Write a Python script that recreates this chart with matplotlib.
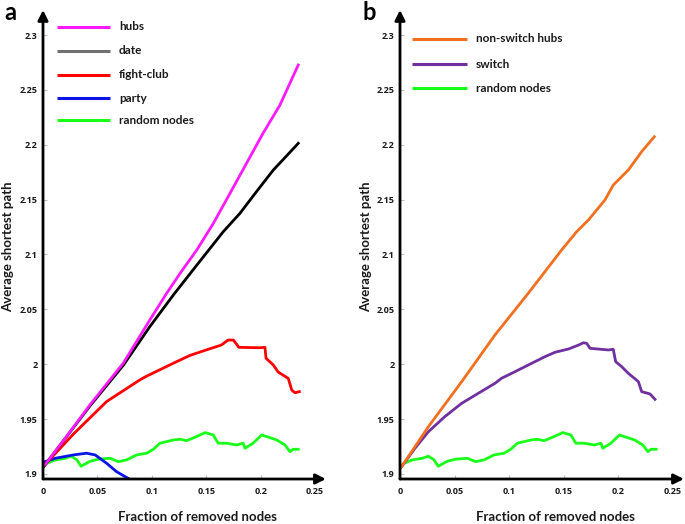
import matplotlib
matplotlib.use("Agg")
import matplotlib.pyplot as plt
from matplotlib.ticker import FuncFormatter

plt.rcParams['font.family'] = ['Lato', 'DejaVu Sans']

# ---------------- data (panel a) ----------------
hubs_x = [0, 0.003, 0.02, 0.0432, 0.0738, 0.098, 0.1137, 0.1275, 0.1413, 0.1566, 0.1719, 0.187, 0.2022, 0.2178, 0.2346]
hubs_y = [1.907, 1.9098, 1.932, 1.963, 2.001, 2.040, 2.0647, 2.085, 2.104, 2.1284, 2.1558, 2.183, 2.2104, 2.2362, 2.2727]

date_x = [0, 0.003, 0.0432, 0.0738, 0.098, 0.1205, 0.1443, 0.1657, 0.181, 0.196, 0.2117, 0.224, 0.2346]
date_y = [1.906, 1.9098, 1.962, 1.999, 2.034, 2.064, 2.094, 2.1208, 2.1375, 2.157, 2.177, 2.190, 2.2013]

fight_x = [0, 0.003, 0.028, 0.0585, 0.089, 0.095, 0.12, 0.135, 0.150, 0.164, 0.170, 0.175, 0.180,
           0.199, 0.204, 0.205, 0.2117, 0.216, 0.2255, 0.2286, 0.2316, 0.2356]
fight_y = [1.906, 1.9098, 1.9364, 1.966, 1.9857, 1.989, 2.001, 2.008, 2.013, 2.0175, 2.022, 2.022, 2.0154,
           2.015, 2.0154, 2.0054, 1.9993, 1.993, 1.987, 1.9765, 1.974, 1.975]

party_x = [0, 0.0018, 0.0113, 0.0278, 0.040, 0.048, 0.0585, 0.0677, 0.080]
party_y = [1.907, 1.9112, 1.9143, 1.9173, 1.9189, 1.9173, 1.9097, 1.902, 1.895]

random_x = [0, 0.0037, 0.0113, 0.0205, 0.0259, 0.031, 0.035, 0.0432, 0.0508, 0.0616, 0.0692, 0.0769,
            0.086, 0.0953, 0.1014, 0.1075, 0.120, 0.126, 0.132, 0.141, 0.149, 0.1565, 0.161, 0.1688,
            0.178, 0.184, 0.1857, 0.193, 0.201, 0.2056, 0.2148, 0.2224, 0.227, 0.230, 0.2346]
random_y = [1.9067, 1.9097, 1.9128, 1.9143, 1.9162, 1.9130, 1.9070, 1.9115, 1.9134, 1.9143, 1.9112, 1.9128,
            1.9173, 1.9189, 1.9225, 1.928, 1.931, 1.9316, 1.9303, 1.934, 1.9377, 1.9355, 1.928, 1.928,
            1.9264, 1.928, 1.9234, 1.928, 1.9355, 1.934, 1.931, 1.9264, 1.9203, 1.9225, 1.9225]

# ---------------- data (panel b) ----------------
nonswitch_x = [0, 0.0015, 0.026, 0.0565, 0.087, 0.1175, 0.148, 0.1618, 0.1725, 0.1877, 0.1953, 0.2091, 0.2213, 0.2329]
nonswitch_y = [1.905, 1.9067, 1.9431, 1.9841, 2.0267, 2.0647, 2.1041, 2.1208, 2.1314, 2.1497, 2.1633, 2.177, 2.1937, 2.2073]

switch_x = [0, 0.0015, 0.0137, 0.026, 0.041, 0.0565, 0.0717, 0.087, 0.093, 0.1023, 0.1175, 0.1328, 0.142,
            0.1544, 0.1636, 0.168, 0.171, 0.174, 0.1908, 0.1953, 0.1975, 0.203, 0.2091, 0.2183, 0.2213, 0.229, 0.2335]
switch_y = [1.905, 1.9067, 1.9234, 1.9385, 1.9522, 1.9644, 1.9735, 1.9826, 1.9872, 1.9917, 1.9993, 2.0069, 2.0109,
            2.0139, 2.0175, 2.0196, 2.019, 2.0145, 2.013, 2.0136, 2.0023, 1.9978, 1.9917, 1.9841, 1.975, 1.9729, 1.968]

x_ticks = [0, 0.05, 0.1, 0.15, 0.2, 0.25]
y_ticks = [1.9, 1.95, 2.0, 2.05, 2.1, 2.15, 2.2, 2.25, 2.3]

C_MAG = '#ff1aff'
C_BLACK = '#000000'
C_GRAY = '#707070'
C_RED = '#ff0000'
C_BLUE = '#0a14e6'
C_GREEN = '#1aff1a'
C_ORANGE = '#f07020'
C_PURPLE = '#7030a0'

series_a = [
    (hubs_x, hubs_y, C_MAG, 'hubs', C_MAG),
    (date_x, date_y, C_BLACK, 'date', C_GRAY),
    (fight_x, fight_y, C_RED, 'fight-club', C_RED),
    (party_x, party_y, C_BLUE, 'party', C_BLUE),
    (random_x, random_y, C_GREEN, 'random nodes', C_GREEN),
]
series_b = [
    (nonswitch_x, nonswitch_y, C_ORANGE, 'non-switch hubs', C_ORANGE),
    (switch_x, switch_y, C_PURPLE, 'switch', C_PURPLE),
    (random_x, random_y, C_GREEN, 'random nodes', C_GREEN),
]

W, H = 685, 524
fig = plt.figure(figsize=(W / 100, H / 100), dpi=100)

YMIN, YMAX = 1.8954, 2.3228
XMIN, XMAX = 0, 0.26
ax_top_px, ax_bot_px = 10, 479
TICK_FONT = ['Open Sans', 'DejaVu Sans']


def make_axes(left_px, right_px):
    ax = fig.add_axes([left_px / W, 1 - ax_bot_px / H, (right_px - left_px) / W, (ax_bot_px - ax_top_px) / H])
    ax.set_xlim(XMIN, XMAX)
    ax.set_ylim(YMIN, YMAX)
    for s in ax.spines.values():
        s.set_visible(False)
    ax.set_xticks(x_ticks)
    ax.set_yticks(y_ticks)
    fmt = FuncFormatter(lambda v, p: ('%g' % round(v, 3)))
    ax.xaxis.set_major_formatter(fmt)
    ax.yaxis.set_major_formatter(fmt)
    ax.tick_params(direction='in', length=3, width=0.8, color='#c0c0c0', labelsize=6.5, pad=4)
    ax.tick_params(axis='x', pad=6)
    for lab in ax.get_xticklabels() + ax.get_yticklabels():
        lab.set_fontweight('bold')
        lab.set_family(TICK_FONT)
        lab.set_color('#1a1a1a')
    arrow = dict(arrowstyle='-|>,head_length=0.6,head_width=0.3', lw=2.0, color='black',
                 shrinkA=0, shrinkB=0)
    ax.annotate('', xy=(1.0, 0), xytext=(0, 0), xycoords='axes fraction', arrowprops=arrow,
                annotation_clip=False)
    ax.annotate('', xy=(0, 1.0), xytext=(0, 0), xycoords='axes fraction', arrowprops=arrow,
                annotation_clip=False)
    return ax


def draw_legend(ax, left_px, series, line_x0, line_x1, text_x, rows_y):
    axw = ax.get_position().width * W
    axh = ax.get_position().height * H
    for (xs, ys, col, lab, lcol), ypx in zip(series, rows_y):
        fy = 1 - (ypx - ax_top_px) / axh
        ax.plot([(line_x0 - left_px) / axw, (line_x1 - left_px) / axw], [fy, fy],
                transform=ax.transAxes, color=lcol, lw=2.2, solid_capstyle='butt', clip_on=False)
        ax.text((text_x - left_px) / axw, fy, lab, transform=ax.transAxes, fontsize=8.5,
                fontweight='bold', va='center', ha='left', color='#1a1a1a')


# panel a
axa = make_axes(43, 43 + 0.26 * 1088)
for xs, ys, col, lab, lcol in series_a[::-1]:
    axa.plot(xs, ys, color=col, lw=2.0, solid_joinstyle='round')
draw_legend(axa, 43, series_a, 57, 110, 119, [27, 51, 75, 98, 120])

# panel b
axb = make_axes(400, 400 + 0.26 * 1092)
for xs, ys, col, lab, lcol in series_b[::-1]:
    axb.plot(xs, ys, color=col, lw=2.0, solid_joinstyle='round')
draw_legend(axb, 400, series_b, 412, 467, 476, [39, 64, 88])

# axis labels
for cx in (197, 555):
    fig.text(cx / W, 1 - 517 / H, 'Fraction of removed nodes', ha='center', va='center',
             fontsize=9.5, fontweight='bold', color='#1a1a1a')
for cx in (8, 366):
    fig.text(cx / W, 1 - 247 / H, 'Average shortest path', ha='center', va='center',
             rotation=90, fontsize=9.5, fontweight='bold', color='#1a1a1a')

fig.text(10 / W, 1 - 12 / H, 'a', ha='center', va='center', fontsize=17, fontweight='bold')
fig.text(369 / W, 1 - 12 / H, 'b', ha='center', va='center', fontsize=17, fontweight='bold')

fig.savefig('out.png', dpi=100)
